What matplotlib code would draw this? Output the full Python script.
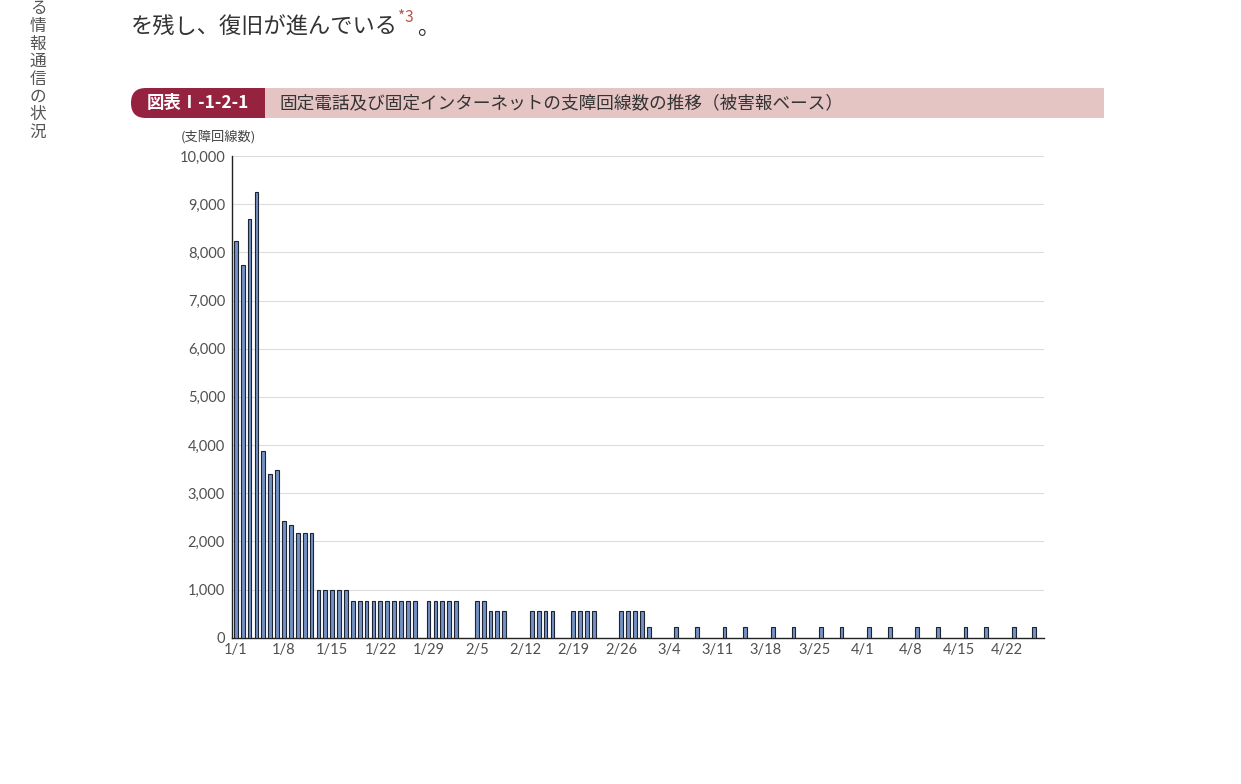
import matplotlib
matplotlib.use("Agg")
import matplotlib.pyplot as plt
import numpy as np
import pandas as pd
from matplotlib.patches import FancyBboxPatch, Rectangle

plt.rcParams['font.family'] = ['Noto Sans CJK JP', 'DejaVu Sans']

# data (2024, lines out of service)
dates = (["01-01", "01-02", "01-03", "01-04", "01-05", "01-06", "01-07",
          "01-08", "01-09", "01-10", "01-11", "01-12"]
         + ["01-%02d" % d for d in range(13, 18)]
         + ["01-%02d" % d for d in range(18, 28)]
         + ["01-29", "01-30", "01-31", "02-01", "02-02"]
         + ["02-05", "02-06", "02-07", "02-08", "02-09"]
         + ["02-13", "02-14", "02-15", "02-16"]
         + ["02-19", "02-20", "02-21", "02-22"]
         + ["02-26", "02-27", "02-28", "02-29", "03-01"]
         + ["03-05", "03-08", "03-12", "03-15", "03-19", "03-22", "03-26", "03-29",
            "04-02", "04-05", "04-09", "04-12", "04-16", "04-19", "04-23", "04-26"])
values = ([8240, 7730, 8690, 9250, 3875, 3400, 3480, 2425, 2335, 2170, 2170, 2170]
          + [1000] * 5
          + [760] * 10
          + [760] * 5
          + [760, 760, 550, 550, 550]
          + [550] * 4
          + [550] * 4
          + [550, 550, 550, 550, 220]
          + [220] * 16)
tick_labels = ["1/1", "1/8", "1/15", "1/22", "1/29", "2/5", "2/12", "2/19", "2/26",
               "3/4", "3/11", "3/18", "3/25", "4/1", "4/8", "4/15", "4/22"]
yticks = list(range(0, 10001, 1000))

start = pd.Timestamp("2024-01-01")
x = (pd.to_datetime(["2024-" + d for d in dates]) - start).days.values
tick_pos = (pd.to_datetime(["2024-" + t.replace("/", "-") for t in tick_labels],
                           format="%Y-%m-%d") - start).days.values

W, H = 1241, 784
fig = plt.figure(figsize=(W / 100, H / 100), dpi=100)


def fx(px):
    return px / W


def fy(py):
    return 1 - py / H


ax = fig.add_axes([fx(232), fy(637.7), fx(1044) - fx(232), fy(156) - fy(637.7)])
ax.bar(x, values, width=0.55, color="#7391c4", edgecolor="#1c2433", linewidth=0.8, zorder=3)
ax.set_xlim(-0.55, 117.4)
ax.set_ylim(0, 10000)
ax.set_yticks(yticks)
ax.set_yticklabels(["{:,}".format(v) for v in yticks])
ax.set_xticks(tick_pos)
ax.set_xticklabels(tick_labels)
ax.tick_params(axis="both", length=0, labelsize=10.5, labelcolor="#505050")
ax.tick_params(axis="y", pad=5)
ax.tick_params(axis="x", pad=4)
for lab in ax.get_xticklabels() + ax.get_yticklabels():
    lab.set_family(["Lato", "DejaVu Sans"])
ax.grid(axis="y", color="#dcdcdc", linewidth=0.8, zorder=0)
for s in ["top", "right"]:
    ax.spines[s].set_visible(False)
for s in ["left", "bottom"]:
    ax.spines[s].set_color("#222222")
    ax.spines[s].set_linewidth(1.0)

fig.text(fx(218), fy(137), "(支障回線数)", fontsize=9.5, color="#444444", ha="center", va="center")

# header band
fig.patches.append(Rectangle((fx(265), fy(118)), fx(1104) - fx(265), fy(88) - fy(118),
                             transform=fig.transFigure, facecolor="#e5c4c4", edgecolor="none"))
fig.patches.append(FancyBboxPatch((fx(131), fy(118)), fx(265) - fx(131), fy(88) - fy(118),
                                  boxstyle="round,pad=0,rounding_size=0.012",
                                  transform=fig.transFigure, facecolor="#952340",
                                  edgecolor="none", mutation_aspect=1.58))
fig.patches.append(Rectangle((fx(220), fy(118)), fx(265) - fx(220), fy(88) - fy(118),
                             transform=fig.transFigure, facecolor="#952340", edgecolor="none"))
fig.text(fx(198), fy(103), "図表Ⅰ-1-2-1", fontsize=12.5, color="white", fontweight="bold",
         ha="center", va="center")
fig.text(fx(279), fy(103), "固定電話及び固定インターネットの支障回線数の推移（被害報ベース）",
         fontsize=12.7, color="#333333", ha="left", va="center")

# running text above
fig.text(fx(131), fy(27), "を残し、復旧が進んでいる", fontsize=16, color="#333333",
         ha="left", va="center")
fig.text(fx(398), fy(18), "*3", fontsize=11, color="#c0504d", ha="left", va="center")
fig.text(fx(417), fy(27), "。", fontsize=16, color="#333333", ha="left", va="center")

# vertical side text
side = "る情報通信の状況"
for i, ch in enumerate(side):
    fig.text(fx(38), fy(9 + 17.6 * i), ch, fontsize=12, color="#555555", ha="center", va="center")

fig.savefig("out.png", dpi=100, facecolor="white")
